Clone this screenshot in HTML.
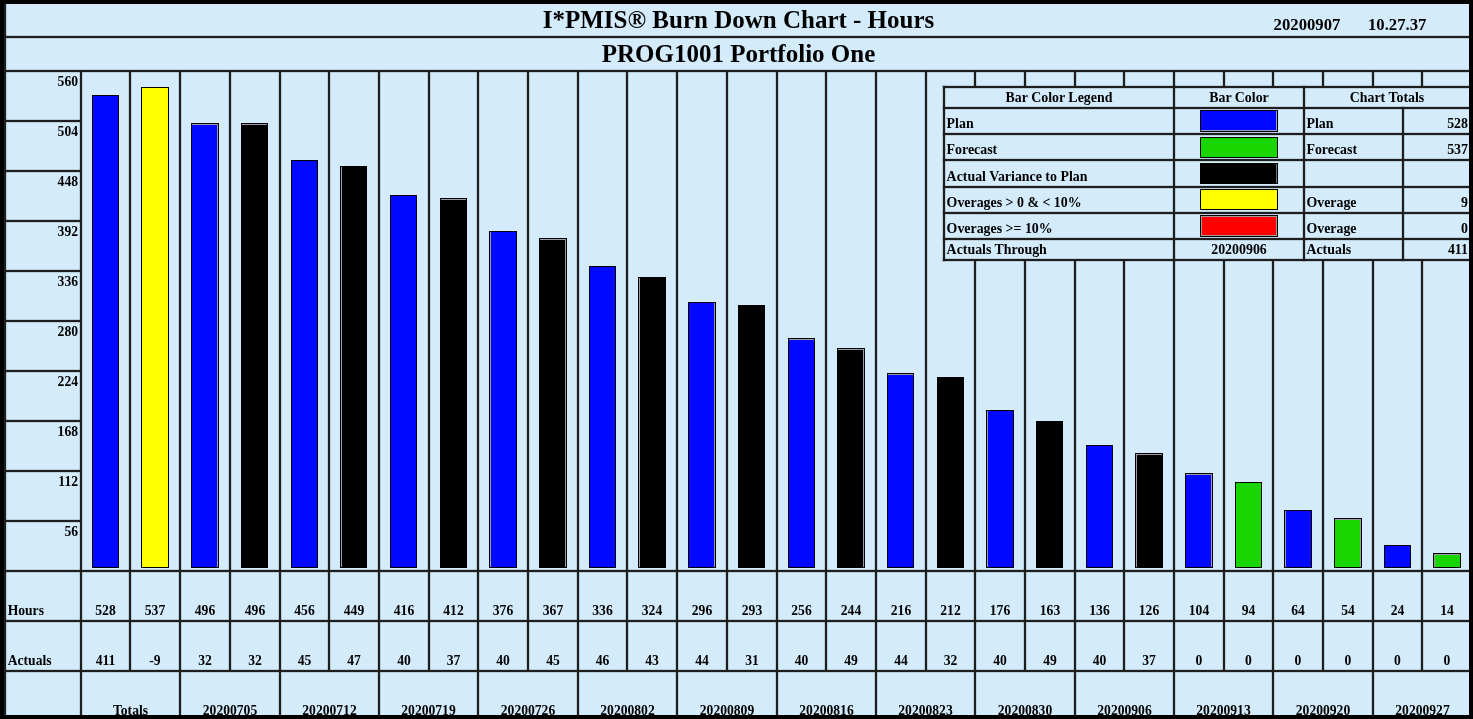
<!DOCTYPE html>
<html><head><meta charset="utf-8"><title>I*PMIS Burn Down Chart - Hours</title>
<style>
html,body{margin:0;padding:0;background:#000;overflow:hidden}
#pg{position:relative;width:1473px;height:719px;background:#000;overflow:hidden;font-family:"Liberation Serif","Times New Roman",serif;font-weight:bold;color:#000}
#bg{position:absolute;left:4px;top:4px;width:1465px;height:711px;background:#d3ebfb;overflow:hidden}
.l{position:absolute;background:#1f1e1e;box-shadow:0 0 0 1px rgba(31,30,30,.14)}
.t{position:absolute;white-space:nowrap;font-size:13.6px;line-height:16px;height:16px}
.c{text-align:center}
.r{text-align:right}
.b{position:absolute;box-sizing:border-box;border:1px solid #000}
.lg{font-size:13.9px}
</style></head><body>
<div id="pg"><div id="bg">

<div class="l" style="left:0px;top:0px;width:2px;height:711px"></div>
<div class="l" style="left:0px;top:32px;width:1465px;height:2px"></div>
<div class="l" style="left:0px;top:66px;width:1465px;height:2px"></div>
<div class="l" style="left:0px;top:116px;width:76px;height:2px"></div>
<div class="l" style="left:0px;top:166px;width:76px;height:2px"></div>
<div class="l" style="left:0px;top:216px;width:76px;height:2px"></div>
<div class="l" style="left:0px;top:266px;width:76px;height:2px"></div>
<div class="l" style="left:0px;top:316px;width:76px;height:2px"></div>
<div class="l" style="left:0px;top:366px;width:76px;height:2px"></div>
<div class="l" style="left:0px;top:416px;width:76px;height:2px"></div>
<div class="l" style="left:0px;top:466px;width:76px;height:2px"></div>
<div class="l" style="left:0px;top:516px;width:76px;height:2px"></div>
<div class="l" style="left:0px;top:566px;width:1465px;height:2px"></div>
<div class="l" style="left:0px;top:616px;width:1465px;height:2px"></div>
<div class="l" style="left:0px;top:666px;width:1465px;height:2px"></div>
<div class="l" style="left:76px;top:67px;width:2px;height:644px"></div>
<div class="l" style="left:125px;top:67px;width:2px;height:600px"></div>
<div class="l" style="left:175px;top:67px;width:2px;height:644px"></div>
<div class="l" style="left:225px;top:67px;width:2px;height:600px"></div>
<div class="l" style="left:275px;top:67px;width:2px;height:644px"></div>
<div class="l" style="left:324px;top:67px;width:2px;height:600px"></div>
<div class="l" style="left:374px;top:67px;width:2px;height:644px"></div>
<div class="l" style="left:424px;top:67px;width:2px;height:600px"></div>
<div class="l" style="left:473px;top:67px;width:2px;height:644px"></div>
<div class="l" style="left:523px;top:67px;width:2px;height:600px"></div>
<div class="l" style="left:573px;top:67px;width:2px;height:644px"></div>
<div class="l" style="left:622px;top:67px;width:2px;height:600px"></div>
<div class="l" style="left:672px;top:67px;width:2px;height:644px"></div>
<div class="l" style="left:722px;top:67px;width:2px;height:600px"></div>
<div class="l" style="left:772px;top:67px;width:2px;height:644px"></div>
<div class="l" style="left:821px;top:67px;width:2px;height:600px"></div>
<div class="l" style="left:871px;top:67px;width:2px;height:644px"></div>
<div class="l" style="left:921px;top:67px;width:2px;height:600px"></div>
<div class="l" style="left:970px;top:67px;width:2px;height:644px"></div>
<div class="l" style="left:1020px;top:67px;width:2px;height:600px"></div>
<div class="l" style="left:1070px;top:67px;width:2px;height:644px"></div>
<div class="l" style="left:1119px;top:67px;width:2px;height:600px"></div>
<div class="l" style="left:1169px;top:67px;width:2px;height:644px"></div>
<div class="l" style="left:1219px;top:67px;width:2px;height:600px"></div>
<div class="l" style="left:1268px;top:67px;width:2px;height:644px"></div>
<div class="l" style="left:1318px;top:67px;width:2px;height:600px"></div>
<div class="l" style="left:1368px;top:67px;width:2px;height:644px"></div>
<div class="l" style="left:1417px;top:67px;width:2px;height:600px"></div>
<div class="l" style="left:1467px;top:67px;width:2px;height:644px"></div>
<div class="t c" style="left:0;top:2px;width:1473px;margin-left:-2px;font-size:25px;line-height:28px;height:28px">I*PMIS® Burn Down Chart - Hours</div>
<div class="t c" style="left:0;top:36px;width:1473px;margin-left:-2px;font-size:25px;line-height:28px;height:28px">PROG1001 Portfolio One</div>
<div class="t " style="left:1269.6px;top:11.6px;width:70px;font-size:16.7px;line-height:18px;height:18px">20200907</div>
<div class="t " style="left:1364px;top:11.6px;width:70px;font-size:16.7px;line-height:18px;height:18px">10.27.37</div>
<div class="t r" style="left:16px;top:70px;width:58px;">560</div>
<div class="t r" style="left:16px;top:120px;width:58px;">504</div>
<div class="t r" style="left:16px;top:170px;width:58px;">448</div>
<div class="t r" style="left:16px;top:220px;width:58px;">392</div>
<div class="t r" style="left:16px;top:270px;width:58px;">336</div>
<div class="t r" style="left:16px;top:320px;width:58px;">280</div>
<div class="t r" style="left:16px;top:370px;width:58px;">224</div>
<div class="t r" style="left:16px;top:420px;width:58px;">168</div>
<div class="t r" style="left:16px;top:470px;width:58px;">112</div>
<div class="t r" style="left:16px;top:520px;width:58px;">56</div>
<div class="b" style="left:88px;top:91px;width:27px;height:473px;background:#0008ff"></div>
<div class="b" style="left:137px;top:83px;width:28px;height:481px;background:#ffff00"></div>
<div class="b" style="left:187px;top:119px;width:28px;height:445px;background:#0008ff;box-shadow:inset 0 1px 0 #9a9aa8,inset -1px 0 0 #9a9aa8"></div>
<div class="b" style="left:237px;top:119px;width:27px;height:445px;background:#000000;box-shadow:inset 0 1px 0 #9a9aa8"></div>
<div class="b" style="left:287px;top:156px;width:27px;height:408px;background:#0008ff"></div>
<div class="b" style="left:336px;top:162px;width:27px;height:402px;background:#000000;box-shadow:inset 1px 0 0 #9a9aa8"></div>
<div class="b" style="left:386px;top:191px;width:27px;height:373px;background:#0008ff"></div>
<div class="b" style="left:436px;top:194px;width:27px;height:370px;background:#000000;box-shadow:inset 0 1px 0 #9a9aa8"></div>
<div class="b" style="left:485px;top:227px;width:28px;height:337px;background:#0008ff;box-shadow:inset 1px 0 0 #9a9aa8"></div>
<div class="b" style="left:535px;top:234px;width:28px;height:330px;background:#000000;box-shadow:inset 0 1px 0 #9a9aa8,inset -1px 0 0 #9a9aa8"></div>
<div class="b" style="left:585px;top:262px;width:27px;height:302px;background:#0008ff"></div>
<div class="b" style="left:634px;top:273px;width:28px;height:291px;background:#000000;box-shadow:inset 1px 0 0 #9a9aa8"></div>
<div class="b" style="left:684px;top:298px;width:28px;height:266px;background:#0008ff;box-shadow:inset -1px 0 0 #9a9aa8"></div>
<div class="b" style="left:734px;top:301px;width:27px;height:263px;background:#000000"></div>
<div class="b" style="left:784px;top:334px;width:27px;height:230px;background:#0008ff;box-shadow:inset 0 1px 0 #9a9aa8"></div>
<div class="b" style="left:833px;top:344px;width:28px;height:220px;background:#000000;box-shadow:inset 0 1px 0 #9a9aa8,inset -1px 0 0 #9a9aa8"></div>
<div class="b" style="left:883px;top:369px;width:27px;height:195px;background:#0008ff;box-shadow:inset 0 1px 0 #9a9aa8"></div>
<div class="b" style="left:933px;top:373px;width:27px;height:191px;background:#000000"></div>
<div class="b" style="left:982px;top:406px;width:28px;height:158px;background:#0008ff;box-shadow:inset 1px 0 0 #9a9aa8"></div>
<div class="b" style="left:1032px;top:417px;width:27px;height:147px;background:#000000"></div>
<div class="b" style="left:1082px;top:441px;width:27px;height:123px;background:#0008ff"></div>
<div class="b" style="left:1131px;top:449px;width:28px;height:115px;background:#000000;box-shadow:inset 0 1px 0 #9a9aa8,inset 1px 0 0 #9a9aa8"></div>
<div class="b" style="left:1181px;top:469px;width:28px;height:95px;background:#0008ff;box-shadow:inset 0 1px 0 #9a9aa8,inset -1px 0 0 #9a9aa8"></div>
<div class="b" style="left:1231px;top:478px;width:27px;height:86px;background:#19d600"></div>
<div class="b" style="left:1280px;top:506px;width:28px;height:58px;background:#0008ff;box-shadow:inset 1px 0 0 #9a9aa8"></div>
<div class="b" style="left:1330px;top:514px;width:28px;height:50px;background:#19d600;box-shadow:inset 0 1px 0 #9a9aa8,inset -1px 0 0 #9a9aa8"></div>
<div class="b" style="left:1380px;top:541px;width:27px;height:23px;background:#0008ff"></div>
<div class="b" style="left:1429px;top:549px;width:28px;height:15px;background:#19d600;box-shadow:inset 0 1px 0 #9a9aa8,inset 1px 0 0 #9a9aa8"></div>
<div class="t " style="left:3.7px;top:599px;width:60px;">Hours</div>
<div class="t " style="left:3.7px;top:649px;width:60px;">Actuals</div>
<div class="t c" style="left:76.5px;top:599px;width:50px;">528</div>
<div class="t c" style="left:76.5px;top:649px;width:50px;">411</div>
<div class="t c" style="left:126px;top:599px;width:50px;">537</div>
<div class="t c" style="left:126px;top:649px;width:50px;">-9</div>
<div class="t c" style="left:176px;top:599px;width:50px;">496</div>
<div class="t c" style="left:176px;top:649px;width:50px;">32</div>
<div class="t c" style="left:226px;top:599px;width:50px;">496</div>
<div class="t c" style="left:226px;top:649px;width:50px;">32</div>
<div class="t c" style="left:275.5px;top:599px;width:50px;">456</div>
<div class="t c" style="left:275.5px;top:649px;width:50px;">45</div>
<div class="t c" style="left:325px;top:599px;width:50px;">449</div>
<div class="t c" style="left:325px;top:649px;width:50px;">47</div>
<div class="t c" style="left:375px;top:599px;width:50px;">416</div>
<div class="t c" style="left:375px;top:649px;width:50px;">40</div>
<div class="t c" style="left:424.5px;top:599px;width:50px;">412</div>
<div class="t c" style="left:424.5px;top:649px;width:50px;">37</div>
<div class="t c" style="left:474px;top:599px;width:50px;">376</div>
<div class="t c" style="left:474px;top:649px;width:50px;">40</div>
<div class="t c" style="left:524px;top:599px;width:50px;">367</div>
<div class="t c" style="left:524px;top:649px;width:50px;">45</div>
<div class="t c" style="left:573.5px;top:599px;width:50px;">336</div>
<div class="t c" style="left:573.5px;top:649px;width:50px;">46</div>
<div class="t c" style="left:623px;top:599px;width:50px;">324</div>
<div class="t c" style="left:623px;top:649px;width:50px;">43</div>
<div class="t c" style="left:673px;top:599px;width:50px;">296</div>
<div class="t c" style="left:673px;top:649px;width:50px;">44</div>
<div class="t c" style="left:723px;top:599px;width:50px;">293</div>
<div class="t c" style="left:723px;top:649px;width:50px;">31</div>
<div class="t c" style="left:772.5px;top:599px;width:50px;">256</div>
<div class="t c" style="left:772.5px;top:649px;width:50px;">40</div>
<div class="t c" style="left:822px;top:599px;width:50px;">244</div>
<div class="t c" style="left:822px;top:649px;width:50px;">49</div>
<div class="t c" style="left:872px;top:599px;width:50px;">216</div>
<div class="t c" style="left:872px;top:649px;width:50px;">44</div>
<div class="t c" style="left:921.5px;top:599px;width:50px;">212</div>
<div class="t c" style="left:921.5px;top:649px;width:50px;">32</div>
<div class="t c" style="left:971px;top:599px;width:50px;">176</div>
<div class="t c" style="left:971px;top:649px;width:50px;">40</div>
<div class="t c" style="left:1021px;top:599px;width:50px;">163</div>
<div class="t c" style="left:1021px;top:649px;width:50px;">49</div>
<div class="t c" style="left:1070.5px;top:599px;width:50px;">136</div>
<div class="t c" style="left:1070.5px;top:649px;width:50px;">40</div>
<div class="t c" style="left:1120px;top:599px;width:50px;">126</div>
<div class="t c" style="left:1120px;top:649px;width:50px;">37</div>
<div class="t c" style="left:1170px;top:599px;width:50px;">104</div>
<div class="t c" style="left:1170px;top:649px;width:50px;">0</div>
<div class="t c" style="left:1219.5px;top:599px;width:50px;">94</div>
<div class="t c" style="left:1219.5px;top:649px;width:50px;">0</div>
<div class="t c" style="left:1269px;top:599px;width:50px;">64</div>
<div class="t c" style="left:1269px;top:649px;width:50px;">0</div>
<div class="t c" style="left:1319px;top:599px;width:50px;">54</div>
<div class="t c" style="left:1319px;top:649px;width:50px;">0</div>
<div class="t c" style="left:1368.5px;top:599px;width:50px;">24</div>
<div class="t c" style="left:1368.5px;top:649px;width:50px;">0</div>
<div class="t c" style="left:1418px;top:599px;width:50px;">14</div>
<div class="t c" style="left:1418px;top:649px;width:50px;">0</div>
<div class="t c" style="left:76.5px;top:699px;width:100px;">Totals</div>
<div class="t c" style="left:176px;top:699px;width:100px;">20200705</div>
<div class="t c" style="left:275.5px;top:699px;width:100px;">20200712</div>
<div class="t c" style="left:374.5px;top:699px;width:100px;">20200719</div>
<div class="t c" style="left:474px;top:699px;width:100px;">20200726</div>
<div class="t c" style="left:573.5px;top:699px;width:100px;">20200802</div>
<div class="t c" style="left:673px;top:699px;width:100px;">20200809</div>
<div class="t c" style="left:772.5px;top:699px;width:100px;">20200816</div>
<div class="t c" style="left:871.5px;top:699px;width:100px;">20200823</div>
<div class="t c" style="left:971px;top:699px;width:100px;">20200830</div>
<div class="t c" style="left:1070.5px;top:699px;width:100px;">20200906</div>
<div class="t c" style="left:1169.5px;top:699px;width:100px;">20200913</div>
<div class="t c" style="left:1269px;top:699px;width:100px;">20200920</div>
<div class="t c" style="left:1368.5px;top:699px;width:100px;">20200927</div>
<div style="position:absolute;left:929px;top:82px;width:536px;height:175px;background:#d3ebfb"></div>
<div class="l" style="left:939px;top:82px;width:526px;height:2px"></div>
<div class="l" style="left:939px;top:103px;width:526px;height:2px"></div>
<div class="l" style="left:939px;top:129px;width:526px;height:2px"></div>
<div class="l" style="left:939px;top:155px;width:526px;height:2px"></div>
<div class="l" style="left:939px;top:182px;width:526px;height:2px"></div>
<div class="l" style="left:939px;top:208px;width:526px;height:2px"></div>
<div class="l" style="left:939px;top:234px;width:526px;height:2px"></div>
<div class="l" style="left:939px;top:255px;width:526px;height:2px"></div>
<div class="l" style="left:939px;top:82px;width:2px;height:175px"></div>
<div class="l" style="left:1169px;top:82px;width:2px;height:175px"></div>
<div class="l" style="left:1299px;top:82px;width:2px;height:175px"></div>
<div class="l" style="left:1398px;top:103px;width:2px;height:154px"></div>
<div class="t lg c" style="left:941px;top:86.4px;width:228px;">Bar Color Legend</div>
<div class="t lg c" style="left:1171px;top:86.4px;width:128px;">Bar Color</div>
<div class="t lg c" style="left:1301px;top:86.4px;width:164px;">Chart Totals</div>
<div class="t lg " style="left:942.6px;top:112.3px;width:220px;">Plan</div>
<div class="b" style="left:1196px;top:106px;width:78px;height:22px;background:#0008ff;box-shadow:inset -1px -1px 0 0 #9aa0c8"></div>
<div class="t lg " style="left:1302.4px;top:112.3px;width:90px;">Plan</div>
<div class="t lg r" style="left:1401px;top:112.3px;width:63px;">528</div>
<div class="t lg " style="left:942.6px;top:138.3px;width:220px;">Forecast</div>
<div class="b" style="left:1196px;top:133px;width:78px;height:21px;background:#19d600;"></div>
<div class="t lg " style="left:1302.4px;top:138.3px;width:90px;">Forecast</div>
<div class="t lg r" style="left:1401px;top:138.3px;width:63px;">537</div>
<div class="t lg " style="left:942.6px;top:165.1px;width:220px;">Actual Variance to Plan</div>
<div class="b" style="left:1196px;top:159px;width:78px;height:21px;background:#000000;box-shadow:inset -1px 0 0 0 #777"></div>
<div class="t lg " style="left:942.6px;top:190.9px;width:220px;">Overages &gt; 0 &amp; &lt; 10%</div>
<div class="b" style="left:1196px;top:185px;width:78px;height:21px;background:#ffff00;"></div>
<div class="t lg " style="left:1302.4px;top:190.9px;width:90px;">Overage</div>
<div class="t lg r" style="left:1401px;top:190.9px;width:63px;">9</div>
<div class="t lg " style="left:942.6px;top:217px;width:220px;">Overages &gt;= 10%</div>
<div class="b" style="left:1196px;top:211px;width:78px;height:22px;background:#ff0000;box-shadow:inset 0 0 0 1px #a59a9a"></div>
<div class="t lg " style="left:1302.4px;top:217px;width:90px;">Overage</div>
<div class="t lg r" style="left:1401px;top:217px;width:63px;">0</div>
<div class="t lg " style="left:942.6px;top:238.2px;width:220px;">Actuals Through</div>
<div class="t lg c" style="left:1171px;top:238.2px;width:128px;">20200906</div>
<div class="t lg " style="left:1302.4px;top:238.2px;width:90px;">Actuals</div>
<div class="t lg r" style="left:1401px;top:238.2px;width:63px;">411</div>
</div></div></body></html>
